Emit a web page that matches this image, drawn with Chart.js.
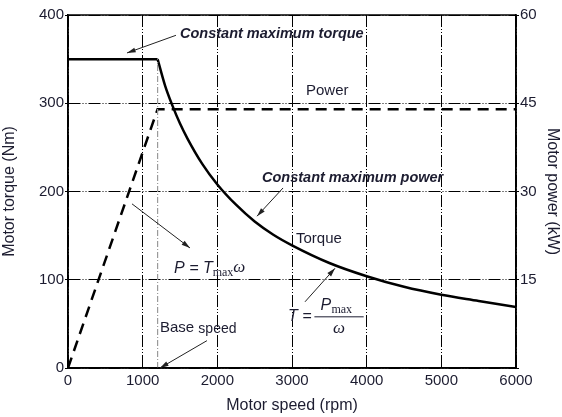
<!DOCTYPE html>
<html>
<head>
<meta charset="utf-8">
<script src="https://cdn.jsdelivr.net/npm/chart.js@4"></script>
<style>
  html, body { margin: 0; padding: 0; background: #fff; }
  #wrap { width: 562px; height: 417px; }
</style>
</head>
<body>
<div id="wrap"><canvas id="motor-chart" width="562" height="417"></canvas></div>
<script>
// motor torque (Nm) against speed (rpm): constant torque part, then constant power part
const flatSpeed = [0, 1200];
const flatTorque = [350, 350];
const curveSpeed = [1200, 1300, 1400, 1500, 1600, 1800, 2000, 2250, 2500, 2750, 3000, 3500, 4000, 4500, 5000, 5500, 6000];
const curveTorque = [350, 320, 297, 277, 260, 231, 208, 185, 166, 151, 139, 119, 104, 92, 83, 76, 69];

// power (kW), right axis
const powerSpeed = [0, 1200, 6000];
const powerValues = [0, 44, 44];

const baseSpeed = 1200;
const baseSpeedTorque = [0, 350];

const xTicks = [0, 1000, 2000, 3000, 4000, 5000, 6000];
const torqueTicks = [0, 100, 200, 300, 400];
const powerTicks = [0, 15, 30, 45, 60];

const textColor = "#1c1c30";
const fontFamily = "'Liberation Sans', Arial, sans-serif";

const toPoints = (xs, ys) => xs.map((x, i) => ({ x: x, y: ys[i] }));

// frame, arrows and the labels on the plot
const notes = {
  id: "notes",
  afterDatasetsDraw(chart) {
    const { ctx, chartArea: a, scales } = chart;
    const px = (v) => scales.x.getPixelForValue(v);
    const py = (v) => scales.y.getPixelForValue(v);

    ctx.save();
    ctx.strokeStyle = "#000";
    ctx.lineWidth = 1.5;
    ctx.setLineDash([]);
    ctx.strokeRect(a.left, a.top, a.right - a.left, a.bottom - a.top);

    function arrow(x1, y1, x2, y2) {
      const sx = px(x1), sy = py(y1), ex = px(x2), ey = py(y2);
      const ang = Math.atan2(ey - sy, ex - sx);
      ctx.strokeStyle = "#222";
      ctx.fillStyle = "#222";
      ctx.lineWidth = 1;
      ctx.beginPath();
      ctx.moveTo(sx, sy);
      ctx.lineTo(ex, ey);
      ctx.stroke();
      ctx.beginPath();
      ctx.moveTo(ex, ey);
      ctx.lineTo(ex - 9 * Math.cos(ang - 0.28), ey - 9 * Math.sin(ang - 0.28));
      ctx.lineTo(ex - 9 * Math.cos(ang + 0.28), ey - 9 * Math.sin(ang + 0.28));
      ctx.closePath();
      ctx.fill();
    }

    function label(str, x, y, font) {
      ctx.font = font;
      ctx.fillStyle = textColor;
      ctx.textBaseline = "middle";
      ctx.textAlign = "left";
      ctx.fillText(str, px(x), py(y));
      return ctx.measureText(str).width;
    }

    const boldIt = "italic bold 14.5px " + fontFamily;
    const plain = "15px " + fontFamily;
    const it = "italic 16px " + fontFamily;
    const omega = "italic 17px 'Liberation Serif', serif";
    const sub = "12px 'Liberation Serif', serif";

    label("Constant maximum torque", 1500, 379, boldIt);
    arrow(1446, 377, 790, 357);

    label("Power", 3187, 314, plain);

    label("Constant maximum power", 2598, 215, boldIt);
    arrow(2880, 204, 2531, 172);

    label("Torque", 3054, 146, plain);

    // P = Tmax w
    let w = label("P = T", 1420, 113, it);
    let x0 = px(1420) + w;
    ctx.font = sub;
    ctx.fillText("max", x0, py(113) + 5);
    x0 += ctx.measureText("max").width;
    ctx.font = omega;
    ctx.fillText("\u03c9", x0, py(113) - 1);
    arrow(857, 186, 1634, 136);

    // T = Pmax / w
    label("T =", 2946, 58, it);
    const fx1 = px(3300), fx2 = px(3960), fy = py(58);
    ctx.strokeStyle = textColor;
    ctx.lineWidth = 1;
    ctx.beginPath();
    ctx.moveTo(fx1, fy);
    ctx.lineTo(fx2, fy);
    ctx.stroke();
    ctx.font = it;
    ctx.fillText("P", fx1 + 6, fy - 11);
    ctx.font = sub;
    ctx.fillText("max", fx1 + 17, fy - 7);
    ctx.font = omega;
    ctx.textAlign = "center";
    ctx.fillText("\u03c9", (fx1 + fx2) / 2, fy + 12);
    arrow(3174, 75, 3576, 113);

    // base speed
    w = label("Base ", 1232, 45, plain);
    ctx.font = "14px " + fontFamily;
    ctx.textAlign = "left";
    ctx.fillText("speed", px(1232) + w, py(45) + 1);
    arrow(1861, 31, 1232, 0);

    ctx.restore();
  },
};

const gridDash = [12, 2, 1, 2, 1, 2];

new Chart(document.getElementById("motor-chart"), {
  type: "line",
  data: {
    datasets: [
      {
        label: "Base speed",
        data: toPoints([baseSpeed, baseSpeed], baseSpeedTorque),
        borderColor: "#9a9a9a",
        borderWidth: 1.2,
        borderDash: [6, 2, 1, 2],
        pointRadius: 0,
        yAxisID: "y",
      },
      {
        label: "Torque (constant)",
        data: toPoints(flatSpeed, flatTorque),
        borderColor: "#000",
        borderWidth: 2.5,
        tension: 0,
        pointRadius: 0,
        yAxisID: "y",
      },
      {
        label: "Torque",
        data: toPoints(curveSpeed, curveTorque),
        borderColor: "#000",
        borderWidth: 2.5,
        cubicInterpolationMode: "monotone",
        pointRadius: 0,
        yAxisID: "y",
      },
      {
        label: "Power",
        data: toPoints(powerSpeed, powerValues),
        borderColor: "#000",
        borderWidth: 2.5,
        borderDash: [11, 7],
        tension: 0,
        pointRadius: 0,
        yAxisID: "y2",
      },
    ],
  },
  options: {
    responsive: false,
    animation: false,
    layout: { padding: { top: 15, right: 0, left: 0, bottom: 0 } },
    plugins: { legend: { display: false }, tooltip: { enabled: false } },
    scales: {
      x: {
        type: "linear",
        min: 0,
        max: 6000,
        afterBuildTicks: (s) => { s.ticks = xTicks.map((v) => ({ value: v })); },
        afterFit: (s) => { s.height = 49; },
        grid: { color: "#000", lineWidth: 1, drawTicks: false },
        border: { display: true, color: "#000", dash: gridDash, width: 1.5 },
        ticks: {
          color: textColor,
          padding: 4,
          maxRotation: 0,
          font: { family: fontFamily, size: 15 },
          callback: (v) => String(v),
        },
        title: { display: true, text: "Motor speed (rpm)", color: textColor, padding: { top: 0, bottom: 2 }, font: { family: fontFamily, size: 16 } },
      },
      y: {
        position: "left",
        min: 0,
        max: 400,
        afterBuildTicks: (s) => { s.ticks = torqueTicks.map((v) => ({ value: v })); },
        afterFit: (s) => { s.width = 68; },
        grid: { color: "#000", lineWidth: 1, drawTicks: true, tickLength: 3 },
        border: { display: true, color: "#000", dash: gridDash, width: 1.5 },
        ticks: { color: textColor, padding: 1, font: { family: fontFamily, size: 15 } },
        title: { display: true, text: "Motor torque (Nm)", color: textColor, padding: 0, font: { family: fontFamily, size: 16 } },
      },
      y2: {
        position: "right",
        min: 0,
        max: 60,
        afterBuildTicks: (s) => { s.ticks = powerTicks.map((v) => ({ value: v })); },
        afterFit: (s) => { s.width = 46; },
        grid: { drawOnChartArea: false, color: "#000", tickLength: 3 },
        border: { display: true, color: "#000", width: 1.5 },
        ticks: {
          color: textColor,
          padding: 1,
          font: { family: fontFamily, size: 15 },
          callback: (v) => (v === 0 ? "" : String(v)),
        },
        title: { display: true, text: "Motor power (kW)", color: textColor, padding: 0, font: { family: fontFamily, size: 16 } },
      },
    },
  },
  plugins: [notes],
});
</script>
</body>
</html>
